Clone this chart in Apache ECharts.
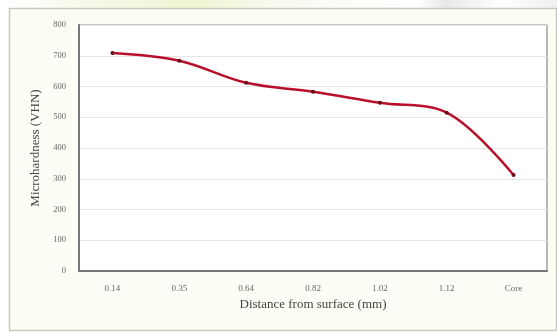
<!DOCTYPE html>
<html>
<head>
<meta charset="utf-8">
<script src="https://cdn.jsdelivr.net/npm/echarts@6/dist/echarts.min.js"></script>
<style>html,body{margin:0;padding:0;background:#fff;}#c{width:557px;height:333px;}</style>
</head>
<body>
<div id="c"></div>
<script>
const categories = ['0.14', '0.35', '0.64', '0.82', '1.02', '1.12', 'Core'];
const hardness = [709, 684, 612, 583, 547, 515, 312];
const yTicks = [0, 100, 200, 300, 400, 500, 600, 700, 800];

const chart = echarts.init(document.getElementById('c'), null, {renderer: 'canvas'});
const serif = '"Liberation Serif", "DejaVu Serif", serif';
chart.setOption({
  animation: false,
  backgroundColor: '#ffffff',
  graphic: [
    {type: 'rect', shape: {x: 0, y: 0, width: 557, height: 9}, z: -10,
     style: {fill: new echarts.graphic.LinearGradient(0, 0, 1, 0, [
       {offset: 0, color: '#ffffff'}, {offset: 0.2, color: '#f4f8e4'}, {offset: 0.35, color: '#eef6d2'},
       {offset: 0.5, color: '#f8faf0'}, {offset: 0.75, color: '#ffffff'}, {offset: 0.8, color: '#e8e8e8'}, {offset: 0.9, color: '#ffffff'}, {offset: 1, color: '#f0f0f0'}])}},
    {type: 'rect', shape: {x: 9.5, y: 8.5, width: 547, height: 322}, z: -9,
     style: {fill: '#fdfdf6', stroke: '#c9c9bf', lineWidth: 1.5}},
    {type: 'rect', shape: {x: 79, y: 25, width: 468, height: 246}, z: -8,
     style: {fill: '#ffffff', stroke: '#8a8a8a', lineWidth: 1.2}}
  ],
  grid: {left: 79, right: 10, top: 25, bottom: 62, containLabel: false},
  xAxis: {
    type: 'category',
    data: categories,
    boundaryGap: true,
    name: 'Distance from surface (mm)',
    nameLocation: 'middle',
    nameGap: 24,
    nameTextStyle: {fontFamily: serif, fontSize: 13, color: '#444'},
    axisLine: {show: true, lineStyle: {color: '#777', width: 2}},
    axisTick: {show: false},
    axisLabel: {fontFamily: serif, fontSize: 9, color: '#666', margin: 13},
    splitLine: {show: false}
  },
  yAxis: {
    type: 'value',
    min: 0, max: 800, interval: 100,
    name: 'Microhardness (VHN)',
    nameLocation: 'middle',
    nameGap: 35,
    nameTextStyle: {fontFamily: serif, fontSize: 13, color: '#444'},
    axisLine: {show: true, lineStyle: {color: '#777', width: 2}},
    axisTick: {show: false},
    axisLabel: {fontFamily: serif, fontSize: 8.5, color: '#666', margin: 13,
      formatter: v => yTicks.includes(v) ? String(v) : ''},
    splitLine: {show: true, lineStyle: {color: '#e6e6e6', width: 1}}
  },
  series: [{
    type: 'line',
    data: hardness,
    smooth: 0.35,
    symbol: 'circle',
    symbolSize: 4,
    itemStyle: {color: '#6a0c1a'},
    lineStyle: {color: '#b80f2a', width: 2.5},
    z: 5
  }]
});
</script>
</body>
</html>
